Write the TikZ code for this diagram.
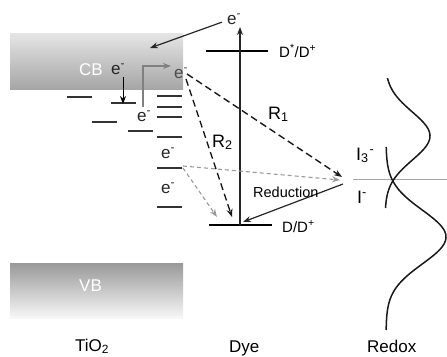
\documentclass[tikz,border=0pt]{standalone}
\usepackage{fontspec}
\setmainfont{Liberation Sans}
\usetikzlibrary{arrows.meta}
\begin{document}
\begin{tikzpicture}[x=1pt,y=-1pt,
  txt/.style={inner sep=0pt, anchor=base west},
  elab/.style={txt, font=\fontsize{17}{17}\selectfont, text=black!85},
  big/.style={txt, font=\fontsize{17}{17}\selectfont},
  lvl/.style={line width=2.8pt, black},
  trap/.style={line width=1.3pt, black!80},
  tip/.style={-{Stealth[length=8pt,width=6pt]}},
  rdash/.style={tip, dash pattern=on 7pt off 4pt, line width=1.4pt, black!90},
  gdash/.style={tip, dash pattern=on 4pt off 3pt, line width=1.1pt, black!40},
  solidarr/.style={tip, line width=1.2pt, black!85},
  curve/.style={line width=1.5pt, black!90},
]
\useasboundingbox (0,0) rectangle (447,356);
% bands
\shade[top color=black!10, bottom color=black!35] (10,33) rectangle (183,89);
\shade[top color=black!40, bottom color=black!3] (10,263) rectangle (183,318);
\node[txt, white, font=\fontsize{17}{17}\selectfont] (cb) at (79,75) {CB};
\node[txt, white, font=\fontsize{17}{17}\selectfont] (vb) at (79,291) {VB};
% trap states
\draw[trap] (67,97) -- (92,97);
\draw[trap] (111,103) -- (136,103);
\draw[trap] (92,122) -- (117,122);
\draw[trap] (128,131) -- (153,131);
\foreach \yy in {96,107,117,137,168,207} \draw[trap] (157,\yy) -- (182,\yy);
% electron labels
\node[elab] (ecb) at (111,74) {e\textsuperscript{-}};
\node[elab] (etr1) at (137,121) {e\textsuperscript{-}};
\node[elab] (etr2) at (161,158) {e\textsuperscript{-}};
\node[elab] (etr3) at (161,193) {e\textsuperscript{-}};
\node[elab, text=black!70] (eedge) at (174,78) {e\textsuperscript{-}};
\node[elab] (etop) at (227,24) {e\textsuperscript{-}};
% coordinates
\coordinate (dtop) at (123,77);
\coordinate (dbot) at (123,104);
\coordinate (ubot) at (143,107);
\coordinate (ucorner) at (143,66);
\coordinate (uend) at (171,66);
\coordinate (cbin) at (150,48);
\coordinate (vbot) at (240,225);
\coordinate (vtop) at (240,27);
\coordinate (r1s) at (187,74);
\coordinate (r1e) at (342,177);
\coordinate (r2s) at (186,79);
\coordinate (r2e) at (232,217);
\coordinate (gs1) at (183,166);
\coordinate (ge1) at (340,180);
\coordinate (gs2) at (183,168);
\coordinate (ge2) at (217,217);
\coordinate (reds) at (343,184);
\coordinate (rede) at (243,222);
% intra-TiO2 arrows
\draw[tip, line width=1pt, black] (dtop) -- (dbot);
\draw[tip, line width=1.2pt, black!50] (ubot) -- (ucorner) -- (uend);
% dye levels
\draw[lvl] (206,51) -- (268,51);
\draw[lvl] (209,225) -- (272,225);
\node[txt, font=\fontsize{15}{15}\selectfont] (dstar) at (279,57) {D\textsuperscript{*}/D\textsuperscript{+}};
\node[txt, font=\fontsize{15}{15}\selectfont] (dground) at (282,232) {D/D\textsuperscript{+}};
% excitation and injection
\draw[solidarr] (vbot) -- (vtop);
\draw[solidarr] ([xshift=-5pt,yshift=-3pt]etop.west) -- (cbin);
% recombination
\draw[gdash] (gs1) -- (ge1);
\draw[gdash] (gs2) -- (ge2);
\draw[rdash] (r1s) -- (r1e);
\draw[rdash] (r2s) -- (r2e);
\node[txt, font=\fontsize{18}{18}\selectfont] (r1) at (268,119) {R\textsubscript{1}};
\node[txt, font=\fontsize{18}{18}\selectfont] (r2) at (212,147) {R\textsubscript{2}};
% reduction
\draw[solidarr] (reds) -- (rede);
\node[txt, font=\fontsize{14.5}{14.5}\selectfont] (red) at (253,197) {Reduction};
% redox
\draw[line width=1pt, black!35] (353,179) -- (447,179);
\draw[curve] plot[domain=78:208, samples=80, variable=\t] ({385+45*exp(-((\t-136)/34)^2)},{\t});
\draw[curve] plot[domain=147:330, samples=100, variable=\t] ({386+60*exp(-((\t-237)/38)^2)},{\t});
\node[txt, font=\fontsize{18}{18}\selectfont] (i3) at (356,160) {I\textsubscript{3}\kern1pt\textsuperscript{-}};
\node[txt, font=\fontsize{18}{18}\selectfont] (i1) at (357,203) {I\textsuperscript{-}};
% bottom labels
\node[big] (tio2) at (75,351) {TiO\textsubscript{2}};
\node[big] (dye) at (229,352) {Dye};
\node[big] (redox) at (367,352) {Redox};
\end{tikzpicture}
\end{document}
